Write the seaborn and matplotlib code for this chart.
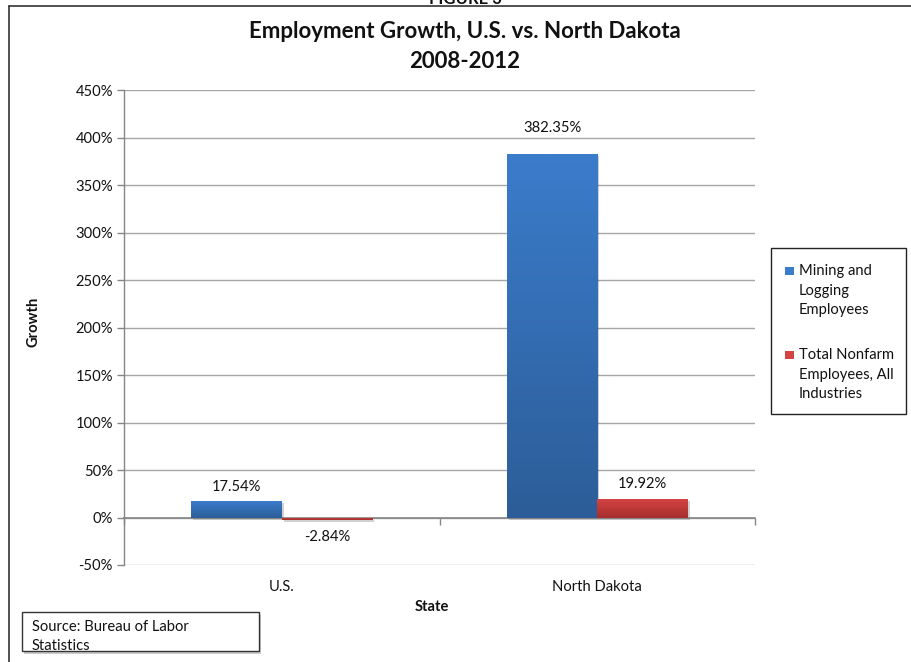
import numpy as np
import pandas as pd
import matplotlib
matplotlib.use("Agg")
import matplotlib.pyplot as plt
import matplotlib.patches as mpatches
from matplotlib.colors import LinearSegmentedColormap
import matplotlib.transforms as mtransforms
import seaborn as sns

# Employment growth 2008-2012 (percent)
states = ["U.S.", "North Dakota"]
series = ["Mining and\nLogging\nEmployees", "Total Nonfarm\nEmployees, All\nIndustries"]
mining = [17.54, 382.35]
nonfarm = [-2.84, 19.92]
y_ticks = [-50, 0, 50, 100, 150, 200, 250, 300, 350, 400, 450]

df = pd.DataFrame({
    "State": states * 2,
    "Series": [series[0]] * 2 + [series[1]] * 2,
    "Growth": mining + nonfarm,
})

sns.set_theme(style="white")
plt.rcParams["font.family"] = ["Lato", "DejaVu Sans"]

FS = 10.6
W, H = 911, 662
fig = plt.figure(figsize=(W / 100, H / 100), dpi=100)
ax = fig.add_axes([124 / W, 1 - 565 / H, (755 - 124) / W, (565 - 90) / H])

blue_top, blue_bot = "#3B7CCB", "#2C5D98"
red_top, red_bot = "#D34443", "#A52E2D"
palette = {series[0]: blue_top, series[1]: red_top}

sns.barplot(data=df, x="State", y="Growth", hue="Series", order=states,
            hue_order=series, palette=palette, width=0.574, saturation=1,
            ax=ax, legend=False, zorder=3, linewidth=0)

# Vertical gradient fill for each bar, light on top, darker at the base
grad = np.linspace(0, 1, 256).reshape(-1, 1)
cmaps = {
    series[0]: LinearSegmentedColormap.from_list("b", [blue_top, blue_bot]),
    series[1]: LinearSegmentedColormap.from_list("r", [red_top, red_bot]),
}
bars_by_series = [ax.containers[0], ax.containers[1]]
shadow_shift = mtransforms.ScaledTranslation(2 / 100, -2 / 100, fig.dpi_scale_trans)
for s, cont in zip(series, bars_by_series):
    for p in cont:
        x0, y0 = p.get_x(), p.get_y()
        w, h = p.get_width(), p.get_height()
        lo, hi = min(y0, y0 + h), max(y0, y0 + h)
        sh = mpatches.Rectangle((x0, lo), w, hi - lo, facecolor="#000000",
                                alpha=0.18, linewidth=0, zorder=2,
                                transform=ax.transData + shadow_shift)
        ax.add_patch(sh)
        im = ax.imshow(grad, extent=[x0, x0 + w, lo, hi], aspect="auto",
                       cmap=cmaps[s], zorder=6, origin="upper")
        im.set_clip_path(p)

ax.set_xlim(-0.5, len(states) - 0.5)
ax.set_ylim(y_ticks[0], y_ticks[-1])

# Gridlines and axes
ax.set_yticks(y_ticks)
ax.set_yticklabels([f"{t}%" for t in y_ticks], fontsize=FS, color="#111111")
ax.yaxis.grid(True, color="#A6A6A6", linewidth=1, zorder=0)
ax.xaxis.grid(False)
for side in ["top", "right"]:
    ax.spines[side].set_visible(False)
ax.spines["left"].set_color("#868686")
ax.spines["left"].set_linewidth(1)
ax.spines["bottom"].set_position(("data", 0))
ax.spines["bottom"].set_color("#868686")
ax.spines["bottom"].set_linewidth(1.2)
ax.spines["bottom"].set_zorder(5)
ax.tick_params(axis="y", which="major", length=5, width=1, color="#868686",
               direction="out", left=True, pad=3)
ax.set_xticks(range(len(states)))
ax.set_xticklabels(states, fontsize=FS, color="#111111")
ax.set_xticks(np.arange(-0.5, len(states), 1.0), minor=True)
ax.tick_params(axis="x", which="major", length=0, pad=45, bottom=True)
ax.tick_params(axis="x", which="minor", length=5, width=1, color="#868686",
               direction="out", bottom=True)

ax.set_xlabel("")
ax.set_ylabel("")
fig.text(33 / W, 1 - 322 / H, "Growth", rotation=90, ha="center", va="center",
         fontsize=FS, fontweight="bold", color="#111111")
fig.text(432 / W, 1 - 607 / H, "State", ha="center", va="center",
         fontsize=FS, fontweight="bold", color="#111111")

# Value labels
label_offsets = {(0, 0): 14, (0, 1): 26, (1, 0): -17, (1, 1): 15}
for si, cont in enumerate(bars_by_series):
    vals = mining if si == 0 else nonfarm
    for ci, p in enumerate(cont):
        v = vals[ci]
        off = label_offsets[(si, ci)]
        ax.annotate(f"{v:.2f}%", (p.get_x() + p.get_width() / 2, v),
                    xytext=(0, off * 0.72), textcoords="offset points",
                    ha="center", va="center", fontsize=FS, color="#111111",
                    zorder=7)

# Title
fig.text(465 / W, 1 - 31 / H, "Employment Growth, U.S. vs. North Dakota",
         ha="center", va="center", fontsize=16, fontweight="bold", color="#111111")
fig.text(465 / W, 1 - 61 / H, "2008-2012", ha="center", va="center",
         fontsize=16, fontweight="bold", color="#111111")
fig.text(465 / W, 1 - 4 / H, "FIGURE 3", ha="center", va="baseline",
         fontsize=12, fontweight="bold", color="#111111")

# Legend box: swatch aligned with the first line of each wrapped label
fig.patches.append(mpatches.Rectangle((771 / W, 1 - 414 / H), (906 - 771) / W,
                                      (414 - 248) / H, transform=fig.transFigure,
                                      facecolor="white", edgecolor="#222222",
                                      linewidth=1))
legend_colors = [blue_top, red_top]
legend_tops = [271, 355]
line_step = 19.5
for name, col, ytop in zip(series, legend_colors, legend_tops):
    fig.patches.append(mpatches.Rectangle((785 / W, 1 - (ytop + 4) / H), 8.5 / W,
                                          8.5 / H, transform=fig.transFigure,
                                          facecolor=col, edgecolor="none"))
    for k, line in enumerate(name.split("\n")):
        fig.text(799 / W, 1 - (ytop + k * line_step) / H, line, ha="left",
                 va="center", fontsize=FS, color="#111111")

# Source note box with drop shadow
box = ((22 / W, 1 - 651 / H), (259 - 22) / W, (651 - 612) / H)
fig.patches.append(mpatches.Rectangle((24 / W, 1 - 654 / H), box[1], box[2],
                                      transform=fig.transFigure,
                                      facecolor="#999999", edgecolor="none",
                                      alpha=0.5, zorder=0))
fig.patches.append(mpatches.Rectangle(box[0], box[1], box[2],
                                      transform=fig.transFigure,
                                      facecolor="white", edgecolor="none", zorder=1))
fig.text(32 / W, 1 - 627 / H, "Source: Bureau of Labor", ha="left",
         va="center", fontsize=FS, color="#111111", zorder=2)
fig.text(32 / W, 1 - 646 / H, "Statistics", ha="left",
         va="center", fontsize=FS, color="#111111", zorder=2)
fig.add_artist(mpatches.Rectangle(box[0], box[1], box[2],
                                  transform=fig.transFigure,
                                  facecolor="none", edgecolor="#333333",
                                  linewidth=1, zorder=10))

# Outer frame
fig.add_artist(plt.Line2D([8.5 / W, 8.5 / W], [0, 1 - 5.5 / H], color="#333333",
                          linewidth=1.2, transform=fig.transFigure))
fig.add_artist(plt.Line2D([8.5 / W, 1], [1 - 5.5 / H, 1 - 5.5 / H], color="#333333",
                          linewidth=1.2, transform=fig.transFigure))

fig.savefig("out.png", dpi=100)
